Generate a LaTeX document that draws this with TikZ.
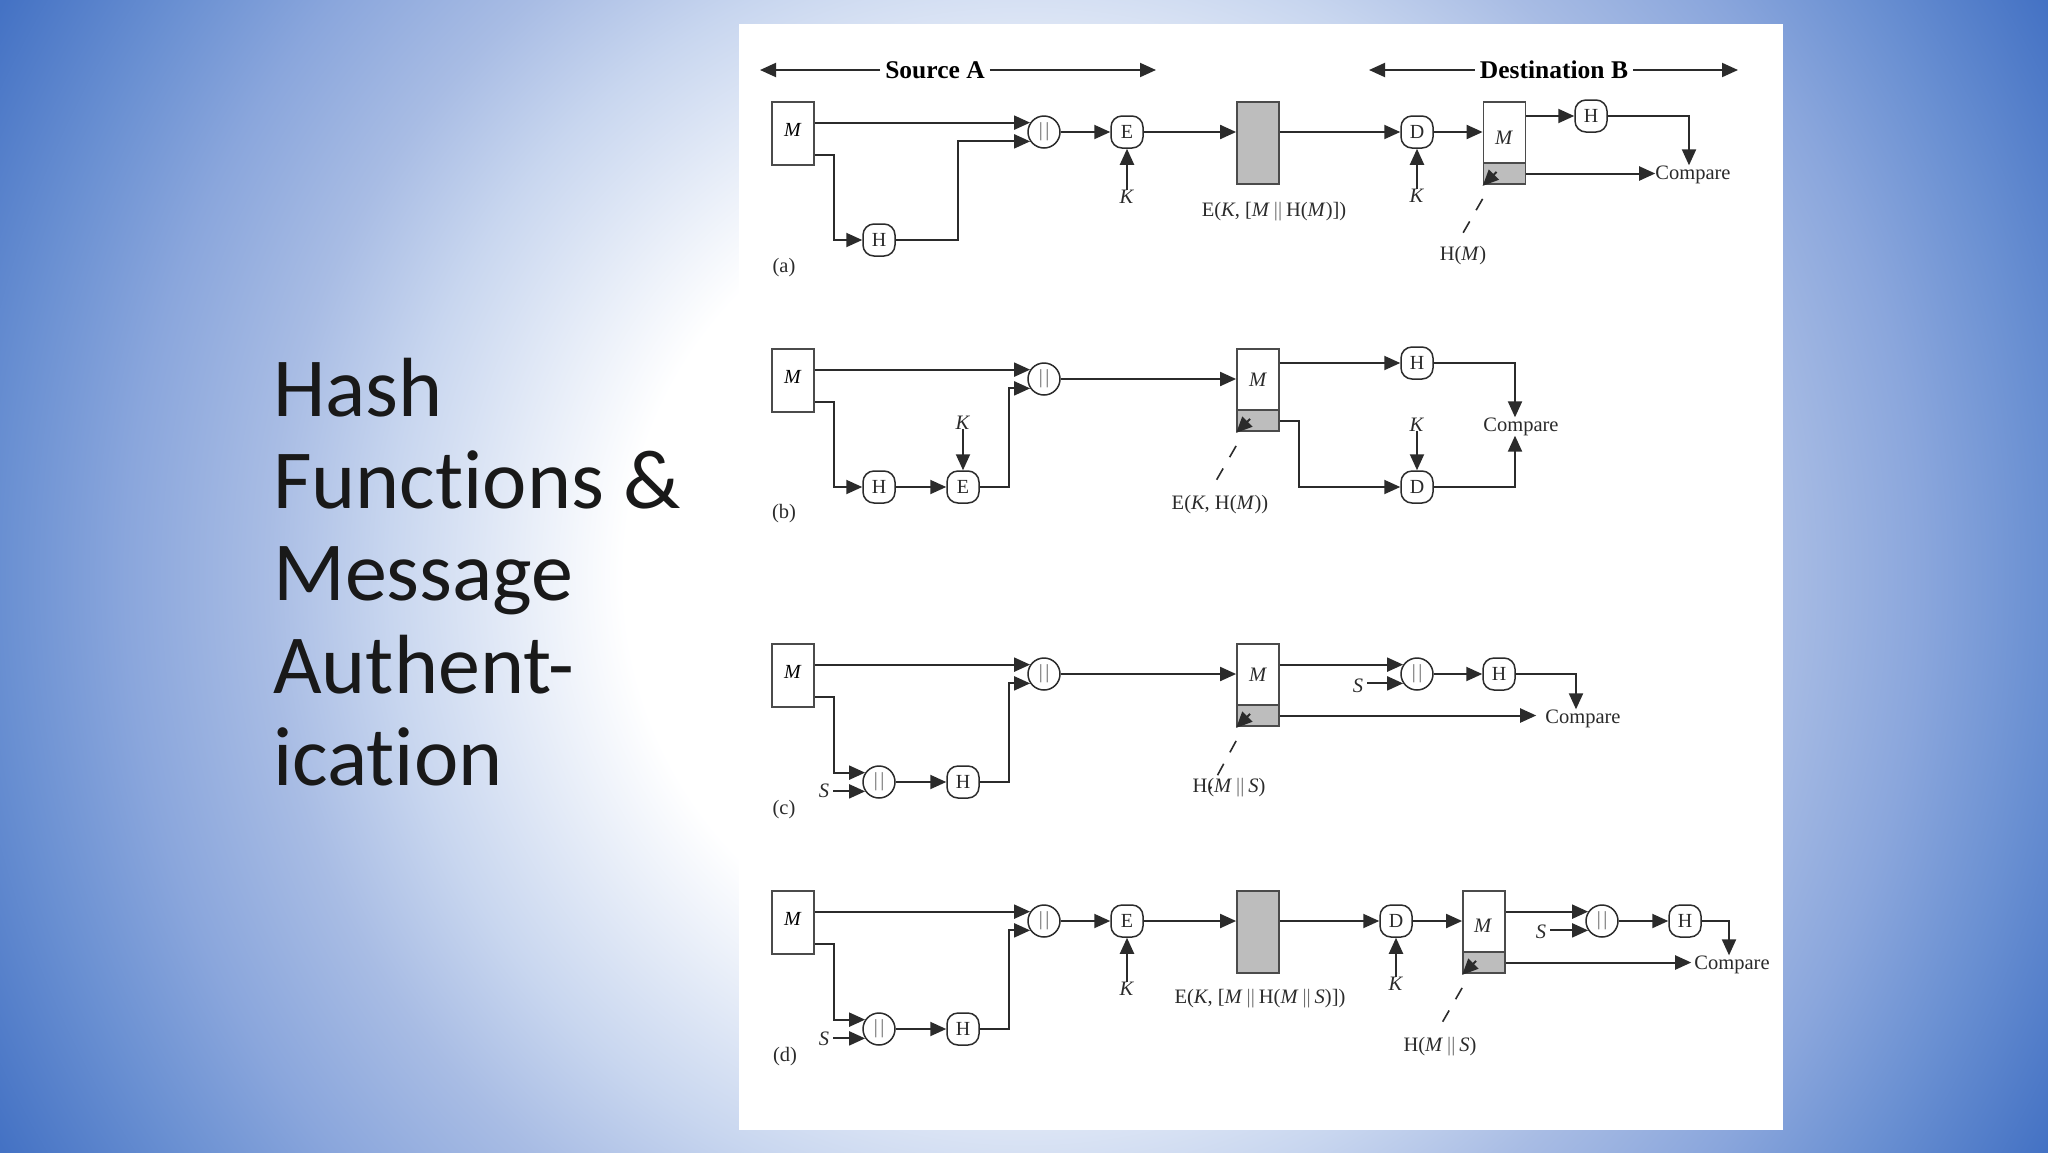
\documentclass[tikz,border=0pt]{standalone}
\usepackage{fontspec}
\setmainfont{Liberation Serif}
\newfontfamily\titlefont[Ligatures=NoCommon]{Carlito}
\usetikzlibrary{arrows.meta}
\definecolor{inkc}{HTML}{2B2B2B}
\definecolor{tagc}{HTML}{BDBDBD}
\definecolor{bgda}{HTML}{C8D6EF}
\definecolor{bgdb}{HTML}{A8BCE4}
\definecolor{bgdc}{HTML}{8AA6DC}
\definecolor{bgdd}{HTML}{6A90D2}
\definecolor{bgde}{HTML}{4472C4}
\pgfdeclareradialshading{slidebg}{\pgfpoint{0cm}{0cm}}{color(0bp)=(white); color(8.5bp)=(white); color(13.5bp)=(bgda); color(16.1bp)=(bgdb); color(19.1bp)=(bgdc); color(21.7bp)=(bgdd); color(24.9bp)=(bgde); color(50bp)=(bgde)}
\newcommand{\pairbar}{\kern4pt\textcolor{inkc!70}{||}\kern4pt}
\newcommand{\catbar}{|\kern2.5pt|}
\newcommand{\srcm}{\raisebox{7pt}{\fontsize{20}{24}\selectfont\textit{M}}}
\tikzset{
  flow/.style={draw=inkc,line width=2pt,-{Triangle[length=16pt,width=14pt]}},
  leader/.style={draw=inkc,line width=1.6pt,dash pattern=on 13pt off 13pt},
  msgbox/.style={draw=inkc!85,line width=1.8pt,fill=white,minimum width=42pt,inner sep=0pt},
  tagbox/.style={draw=inkc!85,line width=1.8pt,fill=tagc,minimum width=42pt,minimum height=21pt,inner sep=0pt},
  opnode/.style={draw=inkc,line width=1.5pt,fill=white,rounded corners=11pt,minimum width=32pt,minimum height=32pt,inner sep=0pt,font=\fontsize{20}{24}\selectfont,text=inkc},
  catnode/.style={draw=inkc,line width=1.5pt,fill=white,circle,minimum size=32pt,inner sep=0pt,font=\fontsize{20}{24}\selectfont,text=inkc!70},
  lab/.style={inner sep=0pt,yshift=-2.5pt,font=\fontsize{20.5}{24}\selectfont,text=inkc},
  head/.style={inner xsep=5pt,inner ysep=0pt,font=\fontsize{25.5}{30}\selectfont\bfseries,text=black},
}
\begin{document}
\begin{tikzpicture}[x=1pt,y=-1pt]
\useasboundingbox (0,0) rectangle (2048,1152);
\begin{scope}
\clip (0,0) rectangle (2048,1152);
\shade[shading=slidebg] (-152,-600) rectangle (2200,1752);
\end{scope}
\fill[white] (739,24) rectangle (1783,1130);
\node[anchor=west,align=left,inner sep=0pt,text=black!90,font=\titlefont\fontsize{84}{92.2}\selectfont] (title) at (273,572) {Hash\\Functions \&\\Message\\Authent-\\ication};
% header
\node[head] (srcA) at (935,70) {Source A};
\coordinate (srcl) at (760,70);
\coordinate (srcr) at (1156,70);
\draw[flow] (srcA.west) -- (srcl);
\draw[flow] (srcA.east) -- (srcr);
\node[head] (dstB) at (1554,70) {Destination B};
\coordinate (dstl) at (1369,70);
\coordinate (dstr) at (1738,70);
\draw[flow] (dstB.west) -- (dstl);
\draw[flow] (dstB.east) -- (dstr);
% panel a
\node[msgbox,minimum height=63pt] (Ma) at (793,133.5) {\srcm};
\node[catnode] (Cata) at (1044,132) {\catbar};
\node[opnode] (Hsa) at (879,240) {H};
\node[opnode] (Ea) at (1127,132) {E};
\node[lab] (Kea) at (1127,194) {\textit{K}};
\node[msgbox,fill=tagc,minimum height=82pt] (Ga) at (1258,143) {};
\node[lab] (Ela) at (1274,209) {E(\textit{K}, [\textit{M}\pairbar H(\textit{M})])};
\node[opnode] (Da) at (1417,132) {D};
\node[lab] (Kda) at (1417,193) {\textit{K}};
\node[msgbox,minimum height=82pt] (Ra) at (1504.5,143) {};
\node[tagbox,anchor=south] (Ta) at (Ra.south) {};
\node[lab] (Mra) at (1504,135) {\textit{M}};
\node[opnode] (Hra) at (1591,116) {H};
\node[lab] (Cmpa) at (1693,172) {Compare};
\node[lab] (Hla) at (1463,253) {H(\textit{M})};
\node[lab] (tga) at (784,265) {(a)};
\draw[flow] (Ma.east |- Cata.146) -- (Cata.146);
\draw[flow] ([yshift=-21pt]Ma.east) -- ++(19,0) |- (Hsa.west);
\draw[flow] (Hsa.east) -- ++(62,0) |- (Cata.214);
\draw[flow] (Cata.east) -- (Ea.west);
\draw[flow] (Kea.north) -- (Ea.south);
\draw[flow] (Ea.east) -- (Ea.east -| Ga.west);
\draw[flow] (Ga.east |- Da.west) -- (Da.west);
\draw[flow] (Kda.north) -- (Da.south);
\draw[flow] (Da.east) -- (Da.east -| Ra.west);
\draw[flow] (Ra.east |- Hra.west) -- (Hra.west);
\draw[flow] (Hra.east) -| ([xshift=-4pt]Cmpa.north);
\draw[flow] (Ta.east) -- (Ta.east -| Cmpa.west);
\draw[flow] ([shift={(14,-13)}]Ta.south west) -- ([shift={(0,1)}]Ta.south west);
\draw[leader] ([shift={(0,14)}]Ta.south west) -- ([shift={(-23,54)}]Ta.south west);
% panel b
\node[msgbox,minimum height=63pt] (Mb) at (793,380.5) {\srcm};
\node[catnode] (Catb) at (1044,379) {\catbar};
\node[opnode] (Hsb) at (879,487) {H};
\node[opnode] (Eb) at (963,487) {E};
\node[lab] (Keb) at (963,420) {\textit{K}};
\node[msgbox,minimum height=82pt] (Rb) at (1258,390) {};
\node[tagbox,anchor=south] (Tb) at (Rb.south) {};
\node[lab] (Mrb) at (1258,377) {\textit{M}};
\node[opnode] (Hrb) at (1417,363) {H};
\node[opnode] (Db) at (1417,487) {D};
\node[lab] (Kdb) at (1417,422) {\textit{K}};
\node[lab] (Cmpb) at (1521,424) {Compare};
\node[lab] (Elb) at (1220,502) {E(\textit{K}, H(\textit{M}))};
\node[lab] (tgb) at (784,511) {(b)};
\draw[flow] (Mb.east |- Catb.146) -- (Catb.146);
\draw[flow] ([yshift=-21pt]Mb.east) -- ++(19,0) |- (Hsb.west);
\draw[flow] (Hsb.east) -- (Eb.west);
\draw[flow] (Keb.south) -- (Eb.north);
\draw[flow] (Eb.east) -- ++(29,0) |- (Catb.214);
\draw[flow] (Catb.east) -- (Catb.east -| Rb.west);
\draw[flow] (Rb.east |- Hrb.west) -- (Hrb.west);
\draw[flow] (Hrb.east) -| ([xshift=-6pt]Cmpb.north);
\draw[flow] (Tb.east) -- ++(19,0) |- (Db.west);
\draw[flow] (Kdb.south) -- (Db.north);
\draw[flow] (Db.east) -| ([xshift=-6pt]Cmpb.south);
\draw[flow] ([shift={(14,-13)}]Tb.south west) -- ([shift={(0,1)}]Tb.south west);
\draw[leader] ([shift={(0,14)}]Tb.south west) -- ([shift={(-23,54)}]Tb.south west);
% panel c
\node[msgbox,minimum height=63pt] (Mc) at (793,675.5) {\srcm};
\node[catnode] (Catc) at (1044,674) {\catbar};
\node[catnode] (Cisc) at (879,782) {\catbar};
\node[lab] (Ssc) at (824,788) {\textit{S}};
\node[opnode] (Hsc) at (963,782) {H};
\node[msgbox,minimum height=82pt] (Rc) at (1258,685) {};
\node[tagbox,anchor=south] (Tc) at (Rc.south) {};
\node[lab] (Mrc) at (1258,672) {\textit{M}};
\node[catnode] (Cdc) at (1417,674) {\catbar};
\node[lab] (Sdc) at (1358,683) {\textit{S}};
\node[opnode] (Hrc) at (1499,674) {H};
\node[lab] (Cmpc) at (1583,716) {Compare};
\node[lab] (Hlc) at (1229,785) {H(\textit{M}\pairbar\textit{S})};
\node[lab] (tgc) at (784,807) {(c)};
\draw[flow] (Mc.east |- Catc.146) -- (Catc.146);
\draw[flow] ([yshift=-21pt]Mc.east) -- ++(19,0) |- (Cisc.146);
\draw[flow] ([xshift=4pt]Ssc.east |- Cisc.214) -- (Cisc.214);
\draw[flow] (Cisc.east) -- (Hsc.west);
\draw[flow] (Hsc.east) -- ++(29,0) |- (Catc.214);
\draw[flow] (Catc.east) -- (Catc.east -| Rc.west);
\draw[flow] (Rc.east |- Cdc.146) -- (Cdc.146);
\draw[flow] ([xshift=4pt]Sdc.east |- Cdc.214) -- (Cdc.214);
\draw[flow] (Cdc.east) -- (Hrc.west);
\draw[flow] (Hrc.east) -| ([xshift=-7pt]Cmpc.north);
\draw[flow] (Tc.east) -- ([xshift=-9pt]Tc.east -| Cmpc.west);
\draw[flow] ([shift={(14,-13)}]Tc.south west) -- ([shift={(0,1)}]Tc.south west);
\draw[leader] ([shift={(0,14)}]Tc.south west) -- ([shift={(-26,62)}]Tc.south west);
% panel d
\node[msgbox,minimum height=63pt] (Md) at (793,922.5) {\srcm};
\node[catnode] (Catd) at (1044,921) {\catbar};
\node[opnode] (Ed) at (1127,921) {E};
\node[lab] (Ked) at (1127,986) {\textit{K}};
\node[catnode] (Cisd) at (879,1029) {\catbar};
\node[lab] (Ssd) at (824,1036) {\textit{S}};
\node[opnode] (Hsd) at (963,1029) {H};
\node[msgbox,fill=tagc,minimum height=82pt] (Gd) at (1258,932) {};
\node[lab] (Eld) at (1260,996) {E(\textit{K}, [\textit{M}\pairbar H(\textit{M}\pairbar\textit{S})])};
\node[opnode] (Dd) at (1396,921) {D};
\node[lab] (Kdd) at (1396,981) {\textit{K}};
\node[msgbox,minimum height=82pt] (Rd) at (1484,932) {};
\node[tagbox,anchor=south] (Td) at (Rd.south) {};
\node[lab] (Mrd) at (1483,923) {\textit{M}};
\node[catnode] (Cdd) at (1602,921) {\catbar};
\node[lab] (Sdd) at (1541,929) {\textit{S}};
\node[opnode] (Hrd) at (1685,921) {H};
\node[lab] (Cmpd) at (1732,962) {Compare};
\node[lab] (Hld) at (1440,1044) {H(\textit{M}\pairbar\textit{S})};
\node[lab] (tgd) at (785,1054) {(d)};
\draw[flow] (Md.east |- Catd.146) -- (Catd.146);
\draw[flow] ([yshift=-21pt]Md.east) -- ++(19,0) |- (Cisd.146);
\draw[flow] ([xshift=4pt]Ssd.east |- Cisd.214) -- (Cisd.214);
\draw[flow] (Cisd.east) -- (Hsd.west);
\draw[flow] (Hsd.east) -- ++(29,0) |- (Catd.214);
\draw[flow] (Catd.east) -- (Ed.west);
\draw[flow] (Ked.north) -- (Ed.south);
\draw[flow] (Ed.east) -- (Ed.east -| Gd.west);
\draw[flow] (Gd.east |- Dd.west) -- (Dd.west);
\draw[flow] (Kdd.north) -- (Dd.south);
\draw[flow] (Dd.east) -- (Dd.east -| Rd.west);
\draw[flow] (Rd.east |- Cdd.146) -- (Cdd.146);
\draw[flow] ([xshift=4pt]Sdd.east |- Cdd.214) -- (Cdd.214);
\draw[flow] (Cdd.east) -- (Hrd.west);
\draw[flow] (Hrd.east) -| ([xshift=-3pt]Cmpd.north);
\draw[flow] (Td.east) -- ([xshift=-3pt]Td.east -| Cmpd.west);
\draw[flow] ([shift={(14,-13)}]Td.south west) -- ([shift={(0,1)}]Td.south west);
\draw[leader] ([shift={(0,14)}]Td.south west) -- ([shift={(-23,54)}]Td.south west);
\end{tikzpicture}
\end{document}
